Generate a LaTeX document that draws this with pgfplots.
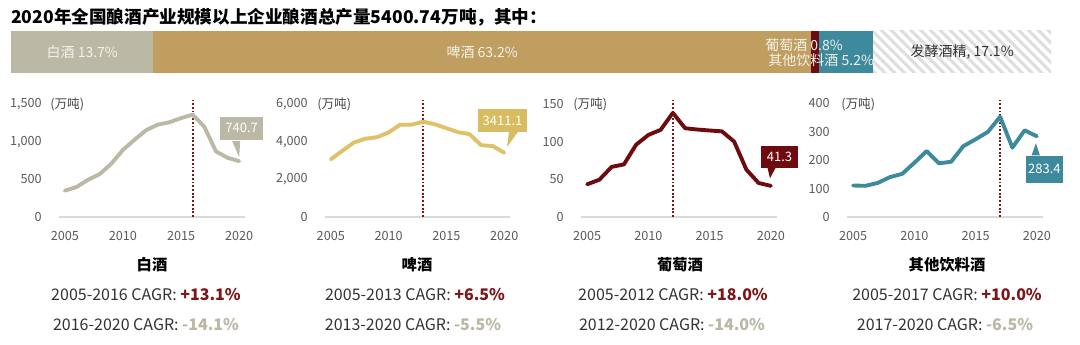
\documentclass[border=0pt]{standalone}
\usepackage{pgfplots}
\pgfplotsset{compat=1.18}
\usepackage{fontspec}
\setmainfont{Noto Sans CJK SC}
\usetikzlibrary{patterns.meta}

\definecolor{baijiu}{HTML}{BBB9A5}
\definecolor{beerbar}{HTML}{BF9E5F}
\definecolor{beerline}{HTML}{DFC167}
\definecolor{beercall}{HTML}{D8BC62}
\definecolor{wine}{HTML}{6E0B0E}
\definecolor{other}{HTML}{3C8A9C}
\definecolor{cagrred}{HTML}{7E1519}
\definecolor{cagrgray}{HTML}{BAB8A4}
\definecolor{tickgray}{HTML}{5A5A5A}
\definecolor{txt}{HTML}{333333}
\definecolor{barlabel}{HTML}{F4F2EA}

\pgfplotsset{
  panel/.style={
    scale only axis, height=87.75pt,
    xmin=2004.5, xmax=2020.5, ymin=0,
    axis x line*=bottom, axis y line*=left,
    y axis line style={draw=none},
    x axis line style={draw=black!15, line width=0.8pt},
    tick style={draw=none},
    xtick={2005,2010,2015,2020},
    scaled y ticks=false,
    /pgf/number format/assume math mode=true,
    xticklabel style={/pgf/number format/1000 sep={}, inner sep=0pt, anchor=north, yshift=-10.5pt, text=tickgray, font=\fontsize{9.5}{11}\selectfont},
    yticklabel style={/pgf/number format/1000 sep={,}, inner sep=0pt, anchor=east, xshift=-12.75pt, text=tickgray, font=\fontsize{9.5}{11}\selectfont},
    clip=false,
  },
  dl/.style={line width=2.9pt, line join=round, line cap=round},
  dots/.style={cagrred, line width=1.6pt, dash pattern=on 1.4pt off 1.4pt},
}

\begin{document}
\begin{tikzpicture}[x=0.75pt, y=0.75pt]
\fill[white] (0,0) rectangle (1080,345);
\path[use as bounding box] (0,0) rectangle (1080,345);

\node[anchor=west, inner sep=0pt, font=\bfseries\fontsize{13.2}{15}\selectfont] at (11,328) {2020年全国酿酒产业规模以上企业酿酒总产量5400.74万吨，其中：};

% ---------- stacked bar ----------
\begin{axis}[at={(8.25pt,204pt)}, anchor=south west, scale only axis, width=780pt, height=31.5pt,
  xbar stacked, bar width=31.5pt, xmin=0, xmax=100, ymin=-0.5, ymax=0.5, hide axis, clip=false]
\addplot[fill=baijiu, draw=none] coordinates {(13.7,0)};
\addplot[fill=beerbar, draw=none] coordinates {(63.2,0)};
\addplot[fill=wine, draw=none] coordinates {(0.8,0)};
\addplot[fill=other, draw=none] coordinates {(5.2,0)};
\addplot[draw=none, fill=white, postaction={pattern={Lines[angle=-45,distance=5.2pt,line width=2.3pt]}, pattern color=black!13}] coordinates {(17.1,0)};
\coordinate (b1) at (axis cs:6.85,0);
\coordinate (b2) at (axis cs:45.3,0);
\coordinate (b3) at (axis cs:80.0,0);
\coordinate (b4) at (axis cs:83.0,0);
\coordinate (b5) at (axis cs:91.45,0);
\end{axis}
\begin{scope}[every node/.style={font=\fontsize{10.5}{12}\selectfont}]
\node[text=barlabel] at (b1) {白酒 13.7\%};
\node[text=barlabel] at (b2) {啤酒 63.2\%};
\node[text=barlabel, anchor=east, inner sep=0pt] at ([yshift=5.25pt]b3) {葡萄酒 0.8\%};
\node[text=barlabel, anchor=east, inner sep=0pt] at ([yshift=-6pt]b4) {其他饮料酒 5.2\%};
\node[text=txt] at (b5) {发酵酒精, 17.1\%};
\end{scope}

% ---------- panel 1: baijiu ----------
\begin{axis}[panel, at={(44.25pt,96pt)}, anchor=south west, width=139.5pt, ymax=1553, ytick={0,500,1000,1500}]
\addplot[dots] coordinates {(2016,0) (2016,1553)};
\addplot[dl, color=baijiu] coordinates {
(2005,349.4) (2006,397.1) (2007,493.9) (2008,569.3) (2009,706.9) (2010,890.8)
(2011,1025.6) (2012,1153.2) (2013,1226.2) (2014,1257.1) (2015,1312.8) (2016,1358.4)
(2017,1198.1) (2018,871.2) (2019,785.9) (2020,740.7)};
\node[anchor=west, inner sep=0pt, text=txt!90, font=\fontsize{9.5}{11}\selectfont] at ([xshift=-6.75pt]rel axis cs:0,0.966) {(万吨)};
\coordinate (c1) at (axis cs:2020,740.7);
\end{axis}
\fill[baijiu] ([shift={(-7,20)}]c1) -- ([shift={(1,20)}]c1) -- ([shift={(0,4)}]c1) -- cycle;
\node[fill=baijiu, text=white, minimum width=32.25pt, minimum height=17.25pt, inner sep=0pt, font=\fontsize{9.75}{11}\selectfont] at ([shift={(2.5,33)}]c1) {740.7};

% ---------- panel 2: beer ----------
\begin{axis}[panel, at={(243.75pt,96pt)}, anchor=south west, width=138.75pt, ymax=6212, ytick={0,2000,4000,6000}]
\addplot[dots] coordinates {(2013,0) (2013,6212)};
\addplot[dl, color=beerline] coordinates {
(2005,3061.6) (2006,3515.1) (2007,3954.1) (2008,4156.9) (2009,4236.4) (2010,4490.2)
(2011,4898.8) (2012,4902.0) (2013,5061.5) (2014,4921.9) (2015,4715.7) (2016,4506.4)
(2017,4401.5) (2018,3812.2) (2019,3765.3) (2020,3411.1)};
\node[anchor=west, inner sep=0pt, text=txt!90, font=\fontsize{9.5}{11}\selectfont] at ([xshift=-6pt]rel axis cs:0,0.966) {(万吨)};
\coordinate (c2) at (axis cs:2020,3411.1);
\end{axis}
\fill[beercall] ([shift={(4.8,21)}]c2) -- ([shift={(13.8,21)}]c2) -- ([shift={(2.8,5.8)}]c2) -- cycle;
\node[fill=beercall, text=white, minimum width=36.75pt, minimum height=17.25pt, inner sep=0pt, font=\fontsize{9.75}{11}\selectfont] at ([shift={(-1.7,32.3)}]c2) {3411.1};

% ---------- panel 3: wine ----------
\begin{axis}[panel, at={(435.75pt,96pt)}, anchor=south west, width=147pt, ymax=155.3, ytick={0,50,100,150}]
\addplot[dots] coordinates {(2012,0) (2012,155.3)};
\addplot[dl, color=wine] coordinates {
(2005,43.4) (2006,49.5) (2007,66.5) (2008,69.8) (2009,96.0) (2010,108.9)
(2011,115.7) (2012,138.2) (2013,117.8) (2014,116.1) (2015,114.8) (2016,113.7)
(2017,100.1) (2018,62.9) (2019,45.1) (2020,41.3)};
\node[anchor=west, inner sep=0pt, text=txt!90, font=\fontsize{9.5}{11}\selectfont] at ([xshift=-6pt]rel axis cs:0,0.966) {(万吨)};
\coordinate (c3) at (axis cs:2020,41.3);
\end{axis}
\fill[wine] ([shift={(-3.5,18.5)}]c3) -- ([shift={(5,18.5)}]c3) -- ([shift={(-0.9,7.6)}]c3) -- cycle;
\node[fill=wine, text=white, minimum width=27.75pt, minimum height=16.5pt, inner sep=0pt, font=\fontsize{9.75}{11}\selectfont] at ([shift={(8.6,28.9)}]c3) {41.3};

% ---------- panel 4: other ----------
\begin{axis}[panel, at={(635.25pt,96pt)}, anchor=south west, width=147pt, ymax=411, ytick={0,100,200,300,400}]
\addplot[dots] coordinates {(2017,0) (2017,411)};
\addplot[dl, color=other] coordinates {
(2005,110.6) (2006,109.5) (2007,119.5) (2008,140.0) (2009,151.5) (2010,190.5)
(2011,231.5) (2012,188.5) (2013,194.0) (2014,249.0) (2015,273.0) (2016,299.0)
(2017,352.0) (2018,243.5) (2019,304.5) (2020,283.4)};
\node[anchor=west, inner sep=0pt, text=txt!90, font=\fontsize{9.5}{11}\selectfont] at ([xshift=-4.5pt]rel axis cs:0,0.966) {(万吨)};
\coordinate (c4) at (axis cs:2020,283.4);
\end{axis}
\fill[other] ([shift={(-5.3,-19)}]c4) -- ([shift={(3,-19)}]c4) -- ([shift={(-1,-7)}]c4) -- cycle;
\node[fill=other, text=white, minimum width=27.75pt, minimum height=20.25pt, inner sep=0pt, font=\fontsize{9.75}{11}\selectfont] at ([shift={(7.5,-32.7)}]c4) {283.4};

% ---------- panel texts ----------
\begin{scope}[every node/.style={text=txt, inner sep=0pt}]
\node[font=\bfseries\fontsize{11.5}{13}\selectfont, text=black] at (152,80) {白酒};
\node[font=\bfseries\fontsize{11.5}{13}\selectfont, text=black] at (417,80) {啤酒};
\node[font=\bfseries\fontsize{11.5}{13}\selectfont, text=black] at (680,80) {葡萄酒};
\node[font=\bfseries\fontsize{11.5}{13}\selectfont, text=black] at (947,80) {其他饮料酒};

\node[font=\fontsize{12}{14}\selectfont] at (146,50) {2005-2016 CAGR: \textbf{\color{cagrred}+13.1\%}};
\node[font=\fontsize{12}{14}\selectfont] at (146,20) {2016-2020 CAGR: \textbf{\color{cagrgray}-14.1\%}};
\node[font=\fontsize{12}{14}\selectfont] at (415,50) {2005-2013 CAGR: \textbf{\color{cagrred}+6.5\%}};
\node[font=\fontsize{12}{14}\selectfont] at (413,20) {2013-2020 CAGR: \textbf{\color{cagrgray}-5.5\%}};
\node[font=\fontsize{12}{14}\selectfont] at (673,50) {2005-2012 CAGR: \textbf{\color{cagrred}+18.0\%}};
\node[font=\fontsize{12}{14}\selectfont] at (672,20) {2012-2020 CAGR: \textbf{\color{cagrgray}-14.0\%}};
\node[font=\fontsize{12}{14}\selectfont] at (947,50) {2005-2017 CAGR: \textbf{\color{cagrred}+10.0\%}};
\node[font=\fontsize{12}{14}\selectfont] at (945,20) {2017-2020 CAGR: \textbf{\color{cagrgray}-6.5\%}};
\end{scope}
\end{tikzpicture}
\end{document}
